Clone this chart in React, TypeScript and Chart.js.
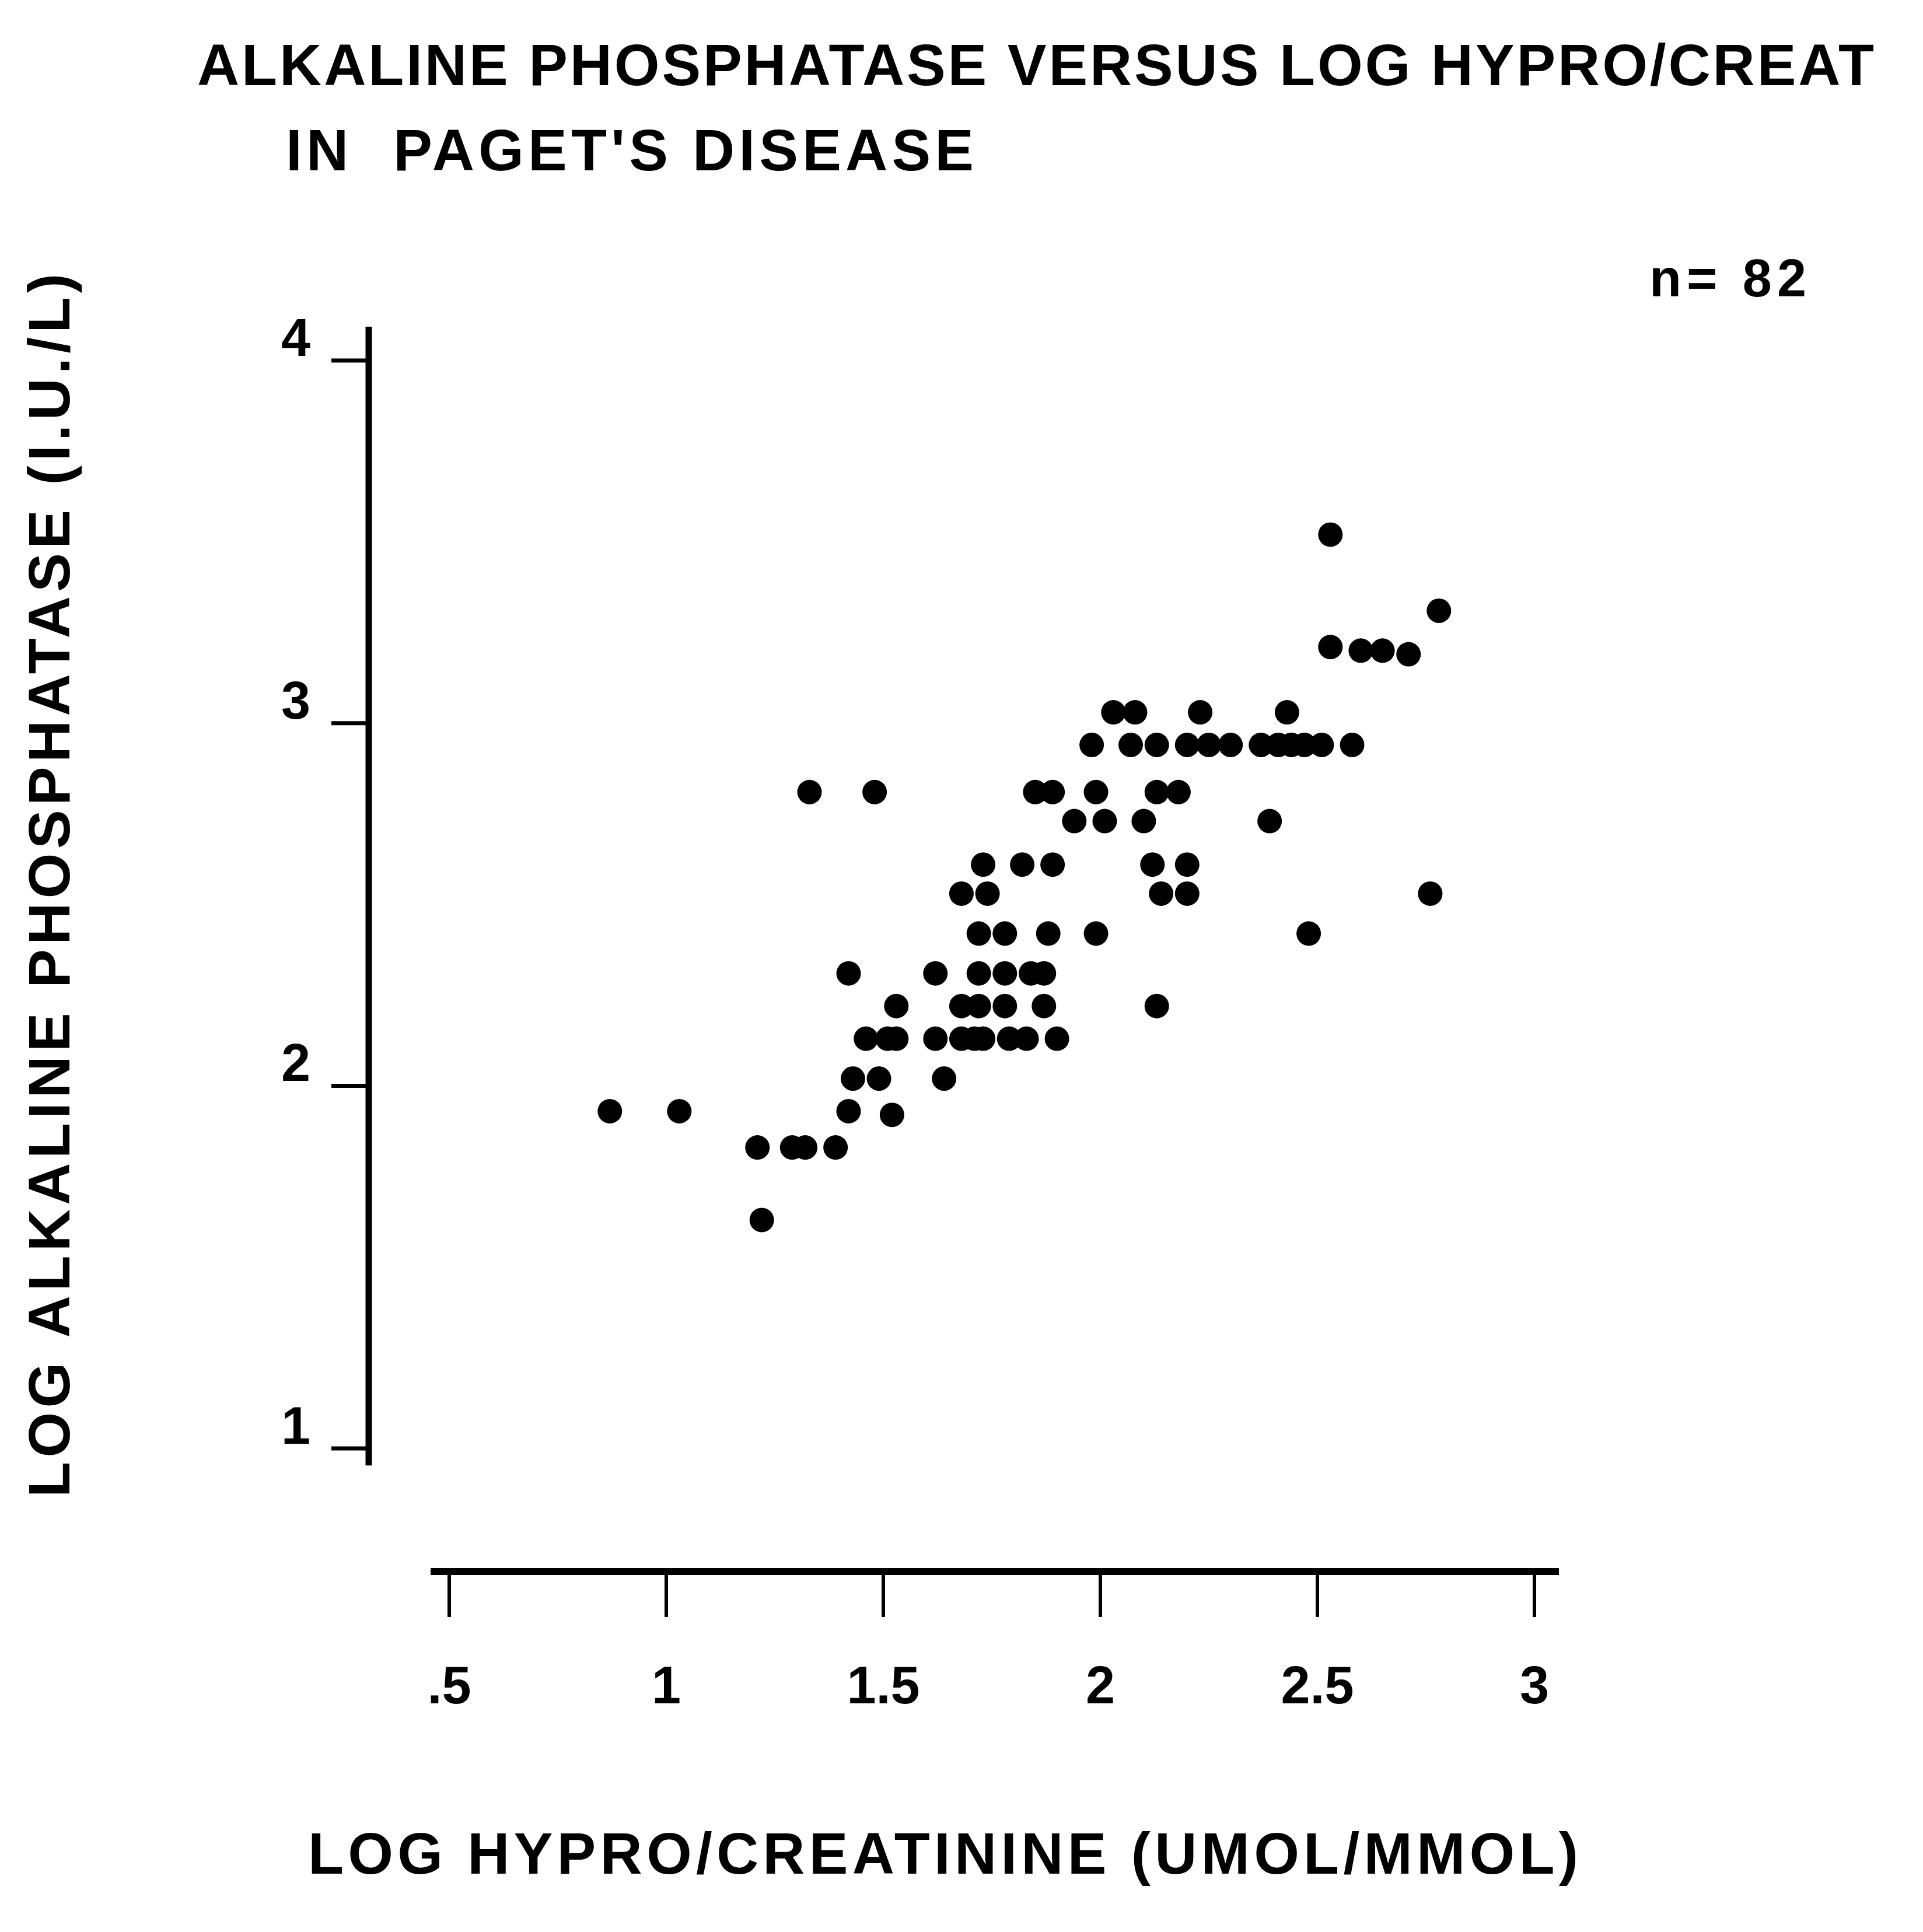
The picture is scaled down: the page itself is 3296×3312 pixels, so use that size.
import React, { useEffect, useRef } from "react";
import { Chart, registerables } from "chart.js";

Chart.register(...registerables);

// Log hydroxyproline/creatinine ratio for each patient (x)
const HYPRO_LOG: number[] = [
  2.53,
  2.78,
  2.53, 2.6, 2.65, 2.71,
  2.03, 2.08, 2.23, 2.43,
  1.98, 2.07, 2.13, 2.2, 2.25, 2.3, 2.37, 2.41, 2.44, 2.47, 2.51, 2.58,
  1.33, 1.48, 1.85, 1.89, 1.99, 2.13, 2.18,
  1.94, 2.01, 2.1, 2.39,
  1.73, 1.82, 1.89, 2.12, 2.2,
  1.68, 1.74, 2.14, 2.2, 2.76,
  1.72, 1.78, 1.88, 1.99, 2.48,
  1.42, 1.62, 1.72, 1.78, 1.84, 1.87,
  1.53, 1.68, 1.72, 1.78, 1.87, 2.13,
  1.46, 1.51, 1.53, 1.62, 1.68, 1.71, 1.73, 1.79, 1.83, 1.9,
  1.43, 1.49, 1.64,
  0.87, 1.03, 1.42, 1.52,
  1.21, 1.29, 1.32, 1.39,
  1.22,
];

// Log alkaline phosphatase for the same patients (y)
const ALP_LOG: number[] = [
  3.52,
  3.31,
  3.21, 3.2, 3.2, 3.19,
  3.03, 3.03, 3.03, 3.03,
  2.94, 2.94, 2.94, 2.94, 2.94, 2.94, 2.94, 2.94, 2.94, 2.94, 2.94, 2.94,
  2.81, 2.81, 2.81, 2.81, 2.81, 2.81, 2.81,
  2.73, 2.73, 2.73, 2.73,
  2.61, 2.61, 2.61, 2.61, 2.61,
  2.53, 2.53, 2.53, 2.53, 2.53,
  2.42, 2.42, 2.42, 2.42, 2.42,
  2.31, 2.31, 2.31, 2.31, 2.31, 2.31,
  2.22, 2.22, 2.22, 2.22, 2.22, 2.22,
  2.13, 2.13, 2.13, 2.13, 2.13, 2.13, 2.13, 2.13, 2.13, 2.13,
  2.02, 2.02, 2.02,
  1.93, 1.93, 1.93, 1.92,
  1.83, 1.83, 1.83, 1.83,
  1.63,
];

const X_TICKS: number[] = [0.5, 1, 1.5, 2, 2.5, 3];
const X_TICK_LABELS: string[] = [".5", "1", "1.5", "2", "2.5", "3"];
const Y_TICKS: number[] = [1, 2, 3, 4];
const Y_TICK_LABELS: string[] = ["1", "2", "3", "4"];

const TITLE_LINE_1 = "ALKALINE PHOSPHATASE VERSUS LOG HYPRO/CREAT";
const TITLE_LINE_2 = "IN  PAGET'S DISEASE";
const SAMPLE_NOTE = "n= 82";
const X_TITLE = "LOG HYPRO/CREATININE (UMOL/MMOL)";
const Y_TITLE = "LOG ALKALINE PHOSPHATASE (I.U./L)";

const W = 3296;
const H = 3312;
const FONT = '"Liberation Sans", Arial, Helvetica, sans-serif';

// Draws text so that it spans the given width, spreading the letters
function spacedText(ctx: CanvasRenderingContext2D, text: string, x: number, y: number, width: number) {
  (ctx as any).letterSpacing = "0px";
  const natural = ctx.measureText(text).width;
  const gap = (width - natural) / Math.max(1, text.length - 1);
  (ctx as any).letterSpacing = `${gap}px`;
  ctx.fillText(text, x, y);
  (ctx as any).letterSpacing = "0px";
}

// Typewriter-style axes: a y axis stopping near 1 and a detached x axis underneath
const paperAxes = {
  id: "paperAxes",
  afterDraw(chart: any) {
    const { ctx, chartArea } = chart;
    const xs = chart.scales.x;
    const ys = chart.scales.y;
    ctx.save();
    ctx.fillStyle = "#000";
    ctx.strokeStyle = "#000";
    ctx.lineCap = "butt";

    // vertical axis
    const axisX = chartArea.left;
    ctx.lineWidth = 11;
    ctx.beginPath();
    ctx.moveTo(axisX, chartArea.top);
    ctx.lineTo(axisX, ys.getPixelForValue(0.953));
    ctx.stroke();

    ctx.lineWidth = 7;
    ctx.font = `bold 90px ${FONT}`;
    ctx.textAlign = "right";
    ctx.textBaseline = "alphabetic";
    Y_TICKS.forEach((v, i) => {
      const py = ys.getPixelForValue(v);
      ctx.beginPath();
      ctx.moveTo(axisX - 64, py);
      ctx.lineTo(axisX, py);
      ctx.stroke();
      ctx.fillText(Y_TICK_LABELS[i], axisX - 100, py - 8);
    });

    // horizontal axis
    const axisY = chartArea.bottom;
    ctx.lineWidth = 12;
    ctx.beginPath();
    ctx.moveTo(xs.getPixelForValue(0.457), axisY);
    ctx.lineTo(chartArea.right, axisY);
    ctx.stroke();

    ctx.lineWidth = 6;
    ctx.textAlign = "center";
    X_TICKS.forEach((v, i) => {
      const px = xs.getPixelForValue(v);
      ctx.beginPath();
      ctx.moveTo(px, axisY);
      ctx.lineTo(px, axisY + 78);
      ctx.stroke();
      ctx.fillText(X_TICK_LABELS[i], px, axisY + 226);
    });

    // titles and notes
    ctx.textAlign = "left";
    ctx.font = `bold 100px ${FONT}`;
    spacedText(ctx, TITLE_LINE_1, 338, 146, 2874);
    spacedText(ctx, TITLE_LINE_2, 490, 292, 1179);
    spacedText(ctx, X_TITLE, 528, 3212, 2177);

    ctx.font = `bold 90px ${FONT}`;
    spacedText(ctx, SAMPLE_NOTE, 2827, 508, 269);

    ctx.font = `bold 100px ${FONT}`;
    ctx.save();
    ctx.translate(119, 2567);
    ctx.rotate(-Math.PI / 2);
    spacedText(ctx, Y_TITLE, 0, 0, 2098);
    ctx.restore();

    ctx.restore();
  },
};

export default function App() {
  const canvasRef = useRef<HTMLCanvasElement | null>(null);

  useEffect(() => {
    const canvas = canvasRef.current;
    if (!canvas) return;
    const points = HYPRO_LOG.map((x, i) => ({ x, y: ALP_LOG[i] }));
    const chart = new Chart(canvas, {
      type: "scatter",
      data: {
        datasets: [
          {
            data: points,
            pointRadius: 21,
            pointHoverRadius: 21,
            pointBackgroundColor: "#000",
            pointBorderWidth: 0,
            showLine: false,
          },
        ],
      },
      options: {
        animation: false,
        responsive: false,
        devicePixelRatio: 1,
        events: [],
        layout: { padding: { left: 632, right: 624, top: 560, bottom: 618 } },
        plugins: {
          legend: { display: false },
          tooltip: { enabled: false },
          title: { display: false },
        },
        scales: {
          x: { type: "linear", display: false, min: 0.3145, max: 3.0565 },
          y: { type: "linear", display: false, min: 0.6608, max: 4.0933 },
        },
      },
      plugins: [paperAxes],
    });
    return () => chart.destroy();
  }, []);

  return (
    <div style={{ position: "absolute", left: 0, top: 0, width: W, height: H, background: "#fff" }}>
      <canvas ref={canvasRef} width={W} height={H} style={{ width: W, height: H, display: "block" }} />
    </div>
  );
}
